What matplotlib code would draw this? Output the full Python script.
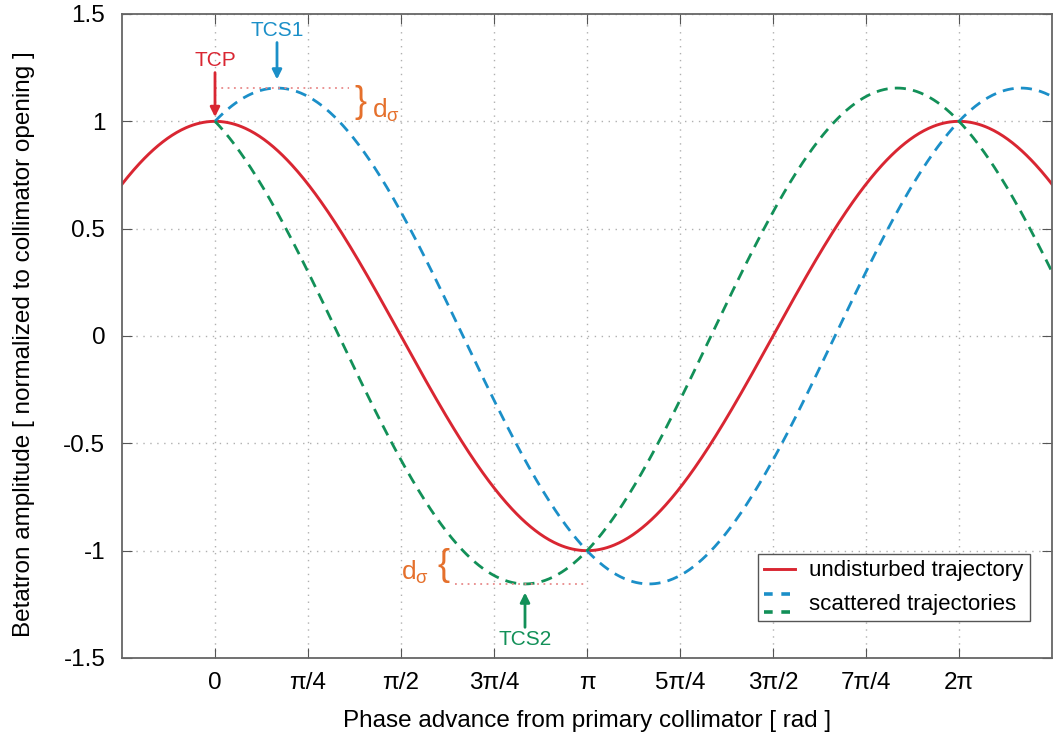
#! /usr/bin/env python3
import numpy as np
import matplotlib
matplotlib.use('Agg')
import matplotlib.pyplot as plt
from matplotlib.lines import Line2D
from matplotlib.legend_handler import HandlerBase

plt.rcParams['font.family'] = ['Liberation Sans', 'DejaVu Sans']
plt.rcParams['axes.unicode_minus'] = False

# curves: betatron oscillations, peak amplitude, phase of the peak (rad), start phase
names = ['undisturbed trajectory', 'scattered (TCS1 side)', 'scattered (TCS2 side)']
amplitudes = [1.0, 1.155, 1.155]
peak_phase = [0.0, np.pi / 6, -np.pi / 6]
start_phase = [-np.pi / 4, 0.0, 0.0]
colors = ['#d92632', '#1b8fc8', '#129058']
styles = ['-', '--', '--']

xticks = [0, np.pi/4, np.pi/2, 3*np.pi/4, np.pi, 5*np.pi/4, 3*np.pi/2, 7*np.pi/4, 2*np.pi]
xticklabels = ['0', 'π/4', 'π/2', '3π/4', 'π', '5π/4', '3π/2', '7π/4', '2π']
yticks = [-1.5, -1, -0.5, 0, 0.5, 1, 1.5]
yticklabels = ['-1.5', '-1', '-0.5', '0', '0.5', '1', '1.5']

ORANGE = '#e5702c'
PINK = '#e88a8a'


class TwoLineHandler(HandlerBase):
    # two dashed lines stacked, one label between them
    def create_artists(self, legend, orig_handle, xdescent, ydescent,
                       width, height, fontsize, trans):
        out = []
        for line, yy in zip(orig_handle, [height * 1.0, -height * 0.15]):
            a = Line2D([-xdescent, width - xdescent], [yy, yy],
                       color=line.get_color(), lw=2.6, dashes=(2.4, 2.4))
            a.set_transform(trans)
            out.append(a)
        return out


def main():
    fig = plt.figure(figsize=(10.53, 7.40), dpi=100)
    ax = fig.add_axes([122/1053, 82/740, 930/1053, 644/740])

    lines = []
    for amp, p0, st, c, ls in zip(amplitudes, peak_phase, start_phase, colors, styles):
        phi = np.linspace(st, 9*np.pi/4, 800)
        y = amp * np.cos(phi - p0)
        if ls == '--':
            l, = ax.plot(phi, y, color=c, lw=2.0, dashes=(4, 2.6))
        else:
            l, = ax.plot(phi, y, color=c, lw=2.1)
        lines.append(l)

    ax.set_xlim(-np.pi/4, 9*np.pi/4)
    ax.set_ylim(-1.5, 1.5)
    ax.set_xticks(xticks)
    ax.set_xticklabels(xticklabels, fontsize=17.5)
    ax.set_yticks(yticks)
    ax.set_yticklabels(yticklabels, fontsize=17.5)
    ax.tick_params(direction='in', length=7, top=True, right=True, color='#555555')
    ax.tick_params(axis='y', pad=12)
    ax.tick_params(axis='x', pad=10)
    ax.grid(True, linestyle=(0, (1, 4)), color='#b0b0b0', lw=1.0)
    for s in ax.spines.values():
        s.set_color('#666666')
        s.set_linewidth(1.3)

    ax.set_xlabel('Phase advance from primary collimator [ rad ]', fontsize=17.5)
    ax.xaxis.set_label_coords(0.5, -0.08)
    ax.set_ylabel('Betatron amplitude [ normalized to collimator opening ]', fontsize=17.5)
    ax.yaxis.set_label_coords(-0.094, 0.487)

    # markers for collimators
    top = amplitudes[1]
    ax.annotate('TCP', xy=(0, 1.02), xytext=(0, 1.24), color=colors[0], fontsize=15,
                ha='center', va='bottom',
                arrowprops=dict(arrowstyle='-|>', color=colors[0], lw=2, mutation_scale=14,
                                shrinkA=0, shrinkB=0))
    ax.annotate('TCS1', xy=(peak_phase[1], top + 0.04), xytext=(peak_phase[1], 1.38),
                color=colors[1], fontsize=15, ha='center', va='bottom',
                arrowprops=dict(arrowstyle='-|>', color=colors[1], lw=2, mutation_scale=14,
                                shrinkA=0, shrinkB=0))
    ax.annotate('TCS2', xy=(np.pi + peak_phase[2], -top - 0.04),
                xytext=(np.pi + peak_phase[2], -1.37),
                color=colors[2], fontsize=15, ha='center', va='top',
                arrowprops=dict(arrowstyle='-|>', color=colors[2], lw=2, mutation_scale=14,
                                shrinkA=0, shrinkB=0))

    # amplitude offset markers
    ax.plot([0, 1.13], [top, top], color=PINK, lw=1.3, linestyle=(0, (1, 2.5)))
    ax.plot([2.03, np.pi], [-top, -top], color=PINK, lw=1.3, linestyle=(0, (1, 2.5)))
    ax.text(1.23, (top + 1) / 2 + 0.01, '}', color=ORANGE, fontsize=26, ha='center',
            va='center')
    ax.text(1.33, 1.05, r'd$_{\mathregular{σ}}$', color=ORANGE, fontsize=19,
            ha='left', va='center')
    ax.text(1.93, -(top + 1) / 2 + 0.01, '{', color=ORANGE, fontsize=26, ha='center',
            va='center')
    ax.text(1.81, -1.1, r'd$_{\mathregular{σ}}$', color=ORANGE, fontsize=19,
            ha='right', va='center')

    leg = ax.legend([lines[0], (lines[1], lines[2])],
                    ['undisturbed trajectory', 'scattered trajectories'],
                    handler_map={tuple: TwoLineHandler()},
                    loc='lower right', bbox_to_anchor=(0.976, 0.057),
                    fontsize=16, fancybox=False, framealpha=1,
                    edgecolor='#555555', handlelength=1.4, handletextpad=0.6,
                    labelspacing=0.55, borderpad=0.3, borderaxespad=0)
    leg.get_frame().set_linewidth(1.0)

    fig.savefig('out.png', dpi=100)


if __name__ == '__main__':
    main()
